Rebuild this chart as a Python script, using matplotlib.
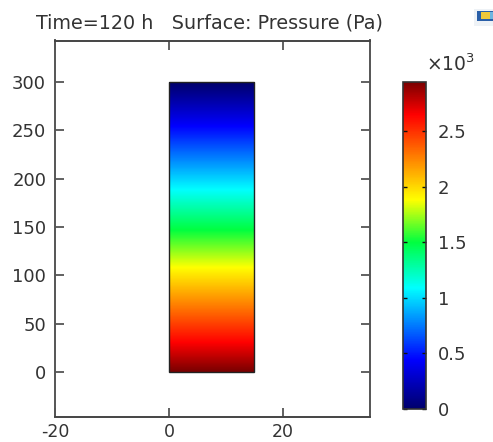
import numpy as np
import matplotlib
matplotlib.use("Agg")
import matplotlib.pyplot as plt
from matplotlib.colors import LinearSegmentedColormap
from matplotlib.patches import Rectangle

W, H = 493, 442
title = "Time=120 h   Surface: Pressure (Pa)"
x_ticks = [-20, 0, 20]
x_labels = ["-20", "0", "20"]
y_ticks = [0, 50, 100, 150, 200, 250, 300]
domain_x = [0, 15]
domain_y = [0, 300]
pressure_bottom_top = [2940, 0]
cbar_ticks = [0, 500, 1000, 1500, 2000, 2500]
cbar_labels = ["0", "0.5", "1", "1.5", "2", "2.5"]
TXT = "#333333"

rainbow = LinearSegmentedColormap.from_list("comsol_rainbow", [
    (0.00, (0.0, 0.0, 0.42)),
    (0.15, (0.0, 0.0, 1.0)),
    (0.37, (0.0, 1.0, 1.0)),
    (0.51, (0.0, 1.0, 0.25)),
    (0.64, (1.0, 1.0, 0.0)),
    (0.90, (1.0, 0.0, 0.0)),
    (1.00, (0.48, 0.0, 0.0)),
], N=512)

def px_axes(fig, l, t, r, b):
    return fig.add_axes([l / W, 1 - b / H, (r - l) / W, (b - t) / H])

fig = plt.figure(figsize=(W / 100, H / 100), dpi=100)
ax = px_axes(fig, 54.5, 40.5, 369.5, 416.5)
ys = np.linspace(domain_y[0], domain_y[1], 300)
ps = np.interp(ys, domain_y, pressure_bottom_top)
vmin, vmax = min(pressure_bottom_top), max(pressure_bottom_top)
im = ax.imshow(ps[:, None], origin="lower", aspect="auto", cmap=rainbow, vmin=vmin, vmax=vmax,
               extent=[domain_x[0], domain_x[1], domain_y[0], domain_y[1]], interpolation="bilinear")
ax.add_patch(Rectangle((domain_x[0], domain_y[0]), domain_x[1] - domain_x[0], domain_y[1] - domain_y[0],
                       fill=False, ec="#222222", lw=1.0))
ax.set_xlim(-20.1, 35.2)
ax.set_ylim(-46.2, 343)
ax.set_xticks(x_ticks, labels=x_labels)
ax.set_yticks(y_ticks)
ax.tick_params(direction="in", length=6.5, width=1.3, color="#555555", top=True, right=True,
               labelsize=13, labelcolor=TXT)
ax.tick_params(axis="x", pad=5, labelsize=12.5)
ax.tick_params(axis="y", pad=6)
for s in ax.spines.values():
    s.set_linewidth(1.4)
    s.set_color("#555555")
ax.spines["top"].set_color("#444444")
ax.spines["bottom"].set_color("#444444")
fig.text(210 / W, 1 - 23 / H, title, ha="center", va="center", fontsize=13.8, color=TXT)

cax = px_axes(fig, 402.5, 82, 425.5, 409)
cb = fig.colorbar(im, cax=cax)
cb.set_ticks(cbar_ticks, labels=cbar_labels)
cb.ax.tick_params(direction="in", length=3, width=1.0, color="#111111", left=True, right=True,
                  labelsize=13, labelcolor=TXT, pad=9)
cb.outline.set_edgecolor("#333333")
cb.outline.set_linewidth(1.2)
fig.text(426 / W, 1 - 64 / H, r"$\mathregular{\times10^3}$", ha="left", va="center", fontsize=13.5, color=TXT)

# small logo fragment at the top right corner of the screenshot
for (l, t, r, b, c) in [(474, 9, 493, 26, "#eef2f6"), (477, 11, 493, 21, "#2a5fa8"),
                        (481, 12, 490, 19, "#f0c83a"), (490, 12, 493, 19, "#6fb6e0")]:
    fig.add_artist(Rectangle((l / W, 1 - b / H), (r - l) / W, (b - t) / H, transform=fig.transFigure,
                             fc=c, ec="none"))

fig.savefig("out.png", dpi=100)
